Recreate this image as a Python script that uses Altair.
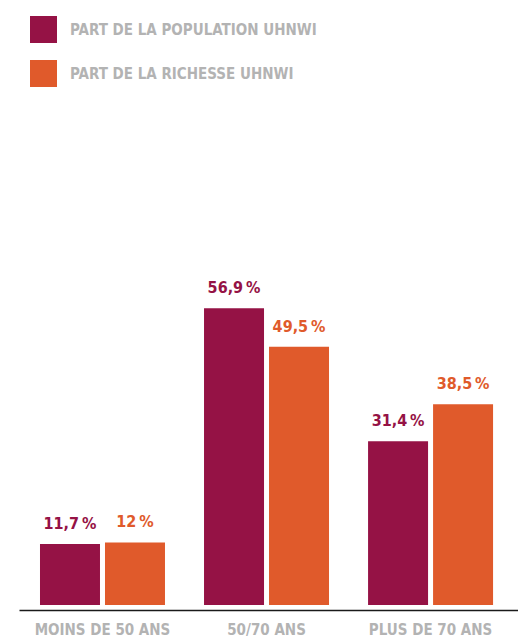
import altair as alt
import pandas as pd

categories = ["MOINS DE 50 ANS", "50/70 ANS", "PLUS DE 70 ANS"]
series = ["PART DE LA POPULATION UHNWI", "PART DE LA RICHESSE UHNWI"]
population = [11.7, 56.9, 31.4]
richesse = [12.0, 49.5, 38.5]
colors = ["#951245", "#e05a2b"]

def fmt(v):
    return ("%g" % v).replace(".", ",") + "\u2009%"

rows = []
for c, p, r in zip(categories, population, richesse):
    rows.append({"cat": c, "serie": series[0], "val": p, "lab": fmt(p)})
    rows.append({"cat": c, "serie": series[1], "val": r, "lab": fmt(r)})
df = pd.DataFrame(rows)

FONT = "DejaVu Sans Condensed"

x = alt.X("cat:N", sort=categories, title=None,
          scale=alt.Scale(paddingInner=0.238, paddingOuter=0.140, align=0.457),
          axis=alt.Axis(labelAngle=0, ticks=False, domainColor="#1a1a1a", domainWidth=1.5,
                        offset=5, labelPadding=12, labelFont=FONT, labelFontSize=15,
                        labelFontWeight="bold", labelColor="#b3b3b3"))
xo = alt.XOffset("serie:N", sort=series, scale=alt.Scale(paddingInner=0.077, paddingOuter=0))
y = alt.Y("val:Q", scale=alt.Scale(domain=[0, 60]), axis=None)
color = alt.Color("serie:N", sort=series,
                  scale=alt.Scale(domain=series, range=colors),
                  legend=alt.Legend(title=None, orient="none", legendX=11, legendY=-276,
                                    symbolType="square", symbolSize=729, symbolStrokeWidth=0,
                                    symbolOpacity=1, labelFont=FONT, labelFontSize=15,
                                    labelFontWeight="bold", labelColor="#b3b3b3",
                                    labelOffset=13, rowPadding=17, padding=0, labelLimit=400))

bars = alt.Chart(df).mark_bar(opacity=1).encode(x=x, xOffset=xo, y=y, color=color)
text = alt.Chart(df).mark_text(baseline="alphabetic", dy=-15, font=FONT, fontSize=16,
                               fontWeight="bold").encode(
    x=x, xOffset=xo, y=y, text="lab:N",
    color=alt.Color("serie:N", sort=series, scale=alt.Scale(domain=series, range=colors), legend=None))

chart = (bars + text).properties(
    width=499, height=313,
    autosize=alt.AutoSizeParams(type="none"),
    padding={"left": 11, "top": 284, "right": 0, "bottom": 35},
).configure_view(stroke=None)

chart.save("out.html", embed_options={"renderer": "svg", "actions": False})
